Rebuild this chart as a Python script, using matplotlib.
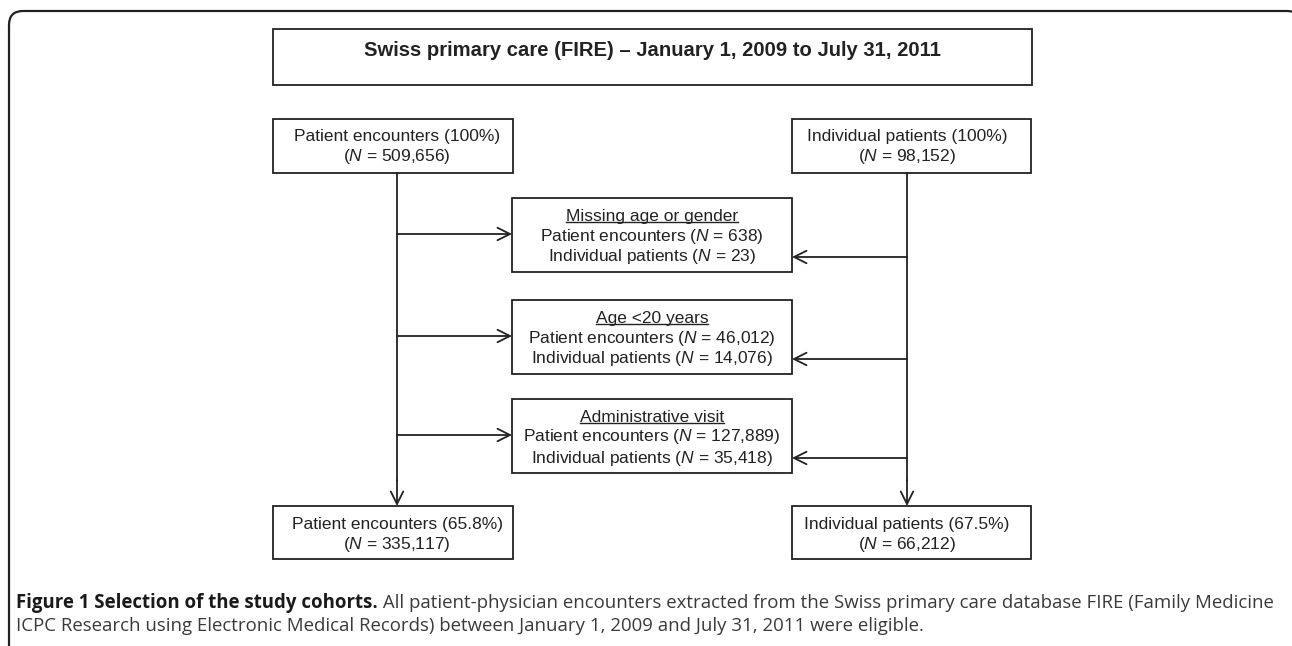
import matplotlib
matplotlib.use("Agg")
import matplotlib.pyplot as plt
from matplotlib.patches import Rectangle, FancyBboxPatch

plt.rcParams['font.family'] = ['Liberation Sans', 'DejaVu Sans']
plt.rcParams['mathtext.fontset'] = 'custom'
plt.rcParams['mathtext.rm'] = 'Liberation Sans'
plt.rcParams['mathtext.it'] = 'Liberation Sans:italic'

# chart content
title = "Swiss primary care (FIRE) \u2013 January 1, 2009 to July 31, 2011"
start_labels = ["Patient encounters (100%)", "Individual patients (100%)"]
start_counts = ["509,656", "98,152"]
exclusion_reasons = ["Missing age or gender", "Age <20 years", "Administrative visit"]
excluded_encounters = ["638", "46,012", "127,889"]
excluded_patients = ["23", "14,076", "35,418"]
final_labels = ["Patient encounters (65.8%)", "Individual patients (67.5%)"]
final_counts = ["335,117", "66,212"]
caption_bold = "Figure 1 Selection of the study cohorts."
caption_rest = (" All patient-physician encounters extracted from the Swiss primary care database FIRE (Family Medicine",
                "ICPC Research using Electronic Medical Records) between January 1, 2009 and July 31, 2011 were eligible.")

W, H = 1292, 646
fig = plt.figure(figsize=(W / 100, H / 100), dpi=100)
ax = fig.add_axes([0, 0, 1, 1])
ax.set_xlim(0, W)
ax.set_ylim(H, 0)
ax.axis("off")

ink = "#222222"
fs = 12.5


def box(x0, x1, y0, y1):
    ax.add_patch(Rectangle((x0, y0), x1 - x0, y1 - y0, fill=False, ec=ink, lw=1.3))


def nline(label, n):
    return label + r" ($\mathit{N}$ = " + n + ")"


def arrow(x0, y0, x1, y1):
    ax.annotate("", xy=(x1, y1), xytext=(x0, y0),
                arrowprops=dict(arrowstyle="->,head_length=0.9,head_width=0.45",
                                color=ink, lw=1.3, shrinkA=0, shrinkB=0))


# outer frame, bottom and right edge run off the picture
ax.add_patch(FancyBboxPatch((9, 11), 1292, 700, boxstyle="round,pad=0,rounding_size=14",
                            fill=False, ec=ink, lw=1.6))

# title box
box(273, 1032, 29, 85)
ax.text(653, 50, title, ha="center", va="center", fontsize=14.6, fontweight="bold", color=ink)

# columns
cols = [(273, 513, 397), (792, 1031, 907)]
for (x0, x1, xc), lab, n in zip(cols, start_labels, start_counts):
    box(x0, x1, 119, 173)
    ax.text(xc, 137, lab, ha="center", va="center", fontsize=fs, color=ink)
    ax.text(xc, 157, "(" + r"$\mathit{N}$ = " + n + ")", ha="center", va="center", fontsize=fs, color=ink)

for (x0, x1, xc), lab, n in zip(cols, final_labels, final_counts):
    box(x0, x1, 506, 559)
    ax.text(xc, 524, lab, ha="center", va="center", fontsize=fs, color=ink)
    ax.text(xc, 544, "(" + r"$\mathit{N}$ = " + n + ")", ha="center", va="center", fontsize=fs, color=ink)
    ax.plot([xc, xc], [173, 480], color=ink, lw=1.3)
    arrow(xc, 480, xc, 506)

# exclusion boxes
tops = [198, 300, 399]
underlines = []
for top, reason, ne, np_ in zip(tops, exclusion_reasons, excluded_encounters, excluded_patients):
    box(512, 792, top, top + 74)
    t = ax.text(652, top + 18, reason, ha="center", va="center", fontsize=fs, color=ink)
    underlines.append((t, top + 24))
    ax.text(652, top + 38, nline("Patient encounters", ne), ha="center", va="center", fontsize=fs, color=ink)
    ax.text(652, top + 59, nline("Individual patients", np_), ha="center", va="center", fontsize=fs, color=ink)
    arrow(397, top + 36, 512, top + 36)
    arrow(907, top + 59, 792, top + 59)

# underline the reason headings
fig.canvas.draw()
inv = ax.transData.inverted()
for t, yu in underlines:
    bb = t.get_window_extent()
    xa = inv.transform([[bb.x0, bb.y0]])[0][0]
    xb = inv.transform([[bb.x1, bb.y0]])[0][0]
    ax.plot([xa, xb], [yu, yu], color=ink, lw=1.0)

# caption
cfs = 13.4
cap = ax.text(16, 603, caption_bold, ha="left", va="center", fontsize=cfs,
              family="Open Sans", fontweight="bold", color="#1a1a1a")
fig.canvas.draw()
bb = cap.get_window_extent()
xe = inv.transform([[bb.x1, bb.y0]])[0][0]
ax.text(xe, 603, caption_rest[0], ha="left", va="center", fontsize=cfs,
        family="Open Sans", color="#3a3a3a")
ax.text(16, 626, caption_rest[1], ha="left", va="center", fontsize=cfs,
        family="Open Sans", color="#3a3a3a")

fig.savefig("out.png", dpi=100)
